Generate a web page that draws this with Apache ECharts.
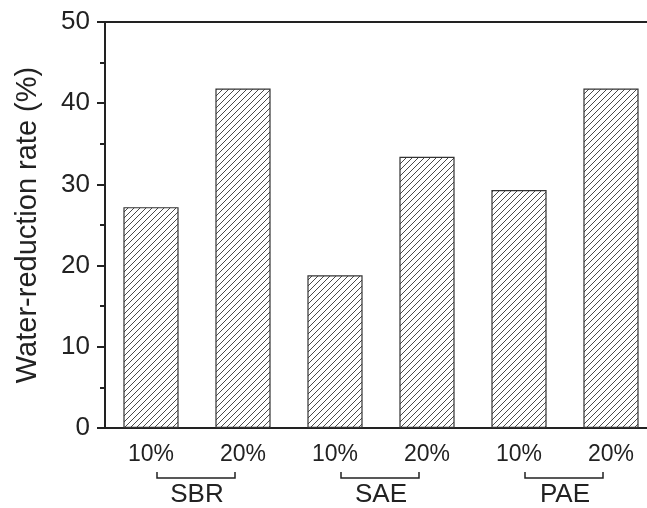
<!DOCTYPE html>
<html>
<head>
<meta charset="utf-8">
<script src="https://cdn.jsdelivr.net/npm/echarts@6/dist/echarts.min.js"></script>
<style>html,body{margin:0;padding:0;background:#fff;overflow:hidden;}#c{width:660px;height:508px;}</style>
</head>
<body>
<div id="c"></div>
<script>
const categories = ['10%', '20%', '10%', '20%', '10%', '20%'];
const groups = ['SBR', 'SAE', 'PAE'];
const values = [27.2, 41.8, 18.8, 33.4, 29.3, 41.8];
const yName = 'Water-reduction rate (%)';

// hatch pattern tile
const tile = document.createElement('canvas');
tile.width = 6; tile.height = 6;
const tc = tile.getContext('2d');
tc.fillStyle = '#fff'; tc.fillRect(0, 0, 6, 6);
tc.strokeStyle = '#4a4a4a'; tc.lineWidth = 1;
tc.beginPath();
tc.moveTo(-1, 7); tc.lineTo(7, -1);
tc.moveTo(-1, 1); tc.lineTo(1, -1);
tc.moveTo(5, 7); tc.lineTo(7, 5);
tc.stroke();

const font = 'Liberation Sans, Arial, sans-serif';
const chart = echarts.init(document.getElementById('c'), null, {renderer: 'canvas'});
const option = {
  animation: false,
  backgroundColor: '#fff',
  grid: {left: 105, top: 22, width: 552, height: 408},
  xAxis: [
    {
      type: 'category', data: categories, position: 'bottom',
      axisLine: {lineStyle: {color: '#222', width: 2}},
      axisTick: {alignWithLabel: true, length: 8, lineStyle: {color: '#222', width: 2}},
      axisLabel: {fontSize: 23, margin: 15, color: '#222', fontFamily: font}
    },
    {
      type: 'category', data: groups, position: 'bottom',
      axisLine: {show: false}, axisTick: {show: false},
      axisLabel: {fontSize: 26, margin: 54, color: '#222', fontFamily: font}
    },
    {
      type: 'category', data: categories, position: 'top',
      axisLine: {lineStyle: {color: '#222', width: 2}},
      axisTick: {show: false}, axisLabel: {show: false}
    }
  ],
  yAxis: {
    type: 'value', min: 0, max: 50, interval: 10,
    axisLine: {show: true, lineStyle: {color: '#222', width: 2}},
    axisTick: {show: true, length: 8, lineStyle: {color: '#222', width: 2}},
    minorTick: {show: true, splitNumber: 2, length: 5, lineStyle: {color: '#222', width: 2}},
    splitLine: {show: false},
    axisLabel: {fontSize: 26, margin: 15, color: '#222', fontFamily: font},
    name: yName, nameLocation: 'middle', nameGap: 63,
    nameTextStyle: {fontSize: 29, color: '#222', fontFamily: font}
  },
  series: [{
    type: 'bar', xAxisIndex: 0, data: values, barWidth: '60%',
    itemStyle: {color: {image: tile, repeat: 'repeat'}, borderColor: '#333', borderWidth: 1.2}
  }]
};
chart.setOption(option);

const y0 = chart.convertToPixel({yAxisIndex: 0}, 0);
const graphics = groups.map((g, i) => {
  const cx = chart.convertToPixel({xAxisIndex: 1}, i) - 1;
  const y = y0 + 50;
  return {
    type: 'polyline',
    shape: {points: [[cx - 39, y - 6], [cx - 39, y], [cx + 39, y], [cx + 39, y - 6]]},
    style: {stroke: '#222', lineWidth: 1.5, fill: null}
  };
});
chart.setOption({graphic: graphics});
</script>
</body>
</html>
